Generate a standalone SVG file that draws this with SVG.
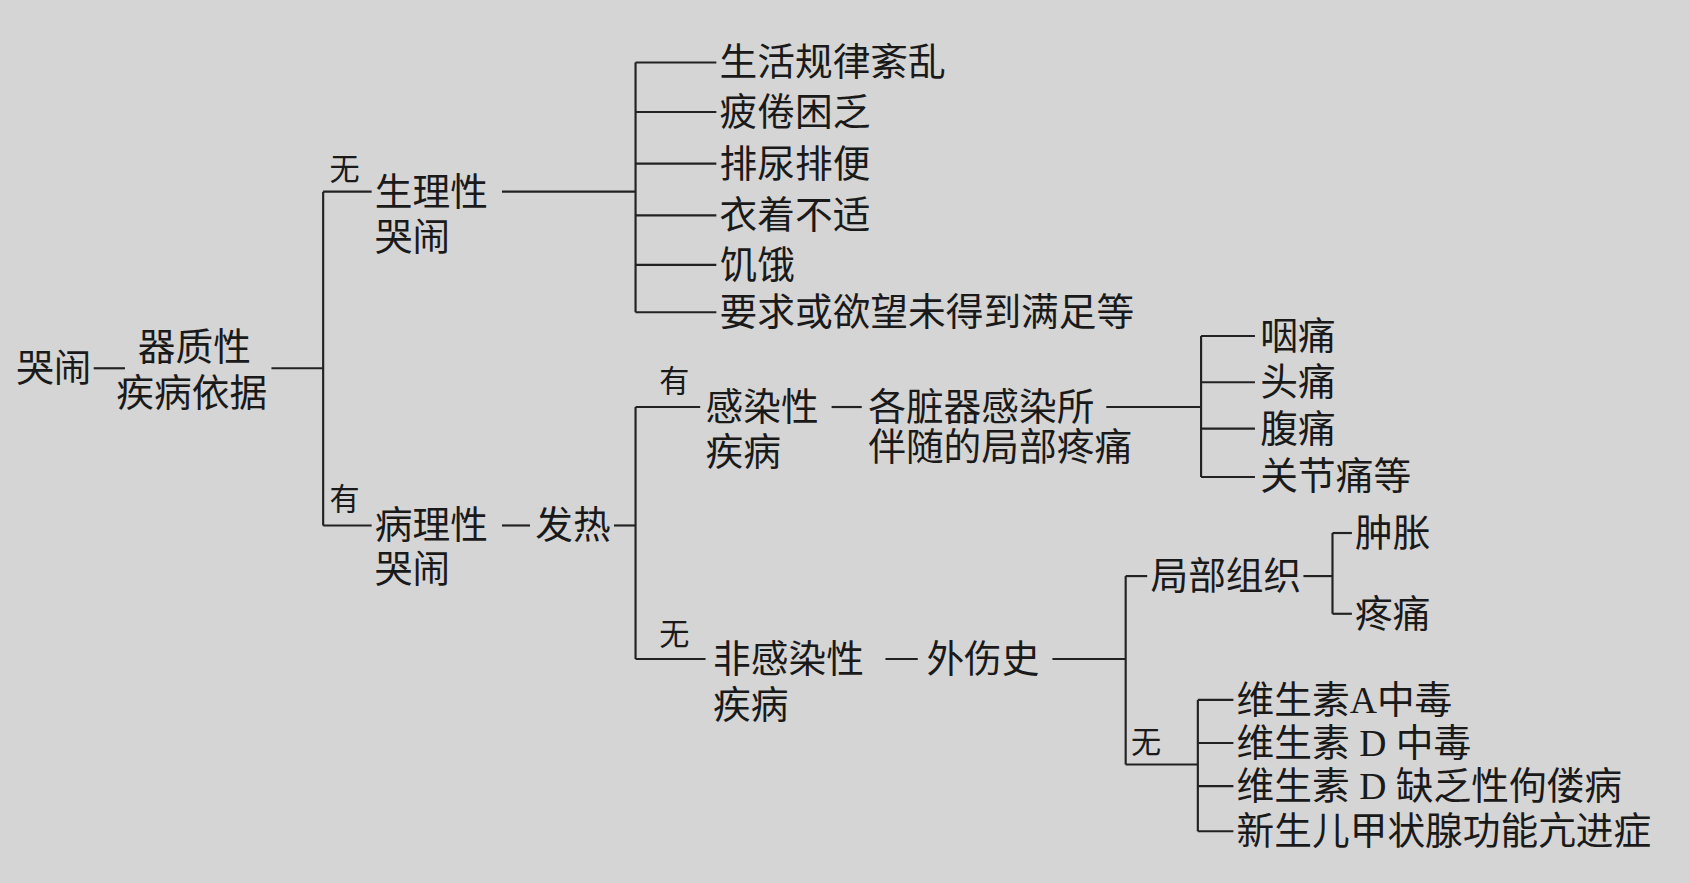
<svg xmlns="http://www.w3.org/2000/svg" width="1689" height="883" viewBox="0 0 1689 883">
<style>
text{font-family:"Liberation Serif","Noto Sans CJK SC",serif;font-size:35px;fill:#1a1a1a;dominant-baseline:central}
.s{font-size:28px}
.c line{stroke:#222;stroke-width:2}
</style>
<rect width="1689" height="883" fill="#d5d5d5"/>
<g transform="scale(1.0772,1.0768)">
<g class="c" id="connectors">
<line x1="87" y1="342" x2="116" y2="342"/>
<line x1="252" y1="342" x2="300" y2="342"/>
<line x1="300" y1="178" x2="300" y2="488"/>
<line x1="300" y1="178" x2="345" y2="178"/>
<line x1="300" y1="488" x2="345" y2="488"/>
<line x1="466" y1="178" x2="590" y2="178"/>
<line x1="590" y1="58" x2="590" y2="290"/>
<line x1="590" y1="58" x2="665" y2="58"/>
<line x1="590" y1="104" x2="665" y2="104"/>
<line x1="590" y1="152" x2="665" y2="152"/>
<line x1="590" y1="200" x2="665" y2="200"/>
<line x1="590" y1="246" x2="665" y2="246"/>
<line x1="590" y1="290" x2="665" y2="290"/>
<line x1="466" y1="488" x2="492" y2="488"/>
<line x1="570" y1="488" x2="590" y2="488"/>
<line x1="590" y1="378" x2="590" y2="612"/>
<line x1="590" y1="378" x2="650" y2="378"/>
<line x1="590" y1="612" x2="655" y2="612"/>
<line x1="772" y1="378" x2="800" y2="378"/>
<line x1="1027" y1="378" x2="1115" y2="378"/>
<line x1="1115" y1="312" x2="1115" y2="443"/>
<line x1="1115" y1="312" x2="1165" y2="312"/>
<line x1="1115" y1="355" x2="1165" y2="355"/>
<line x1="1115" y1="398" x2="1165" y2="398"/>
<line x1="1115" y1="443" x2="1165" y2="443"/>
<line x1="822" y1="612" x2="852" y2="612"/>
<line x1="977" y1="612" x2="1045" y2="612"/>
<line x1="1045" y1="535" x2="1045" y2="710"/>
<line x1="1045" y1="535" x2="1065" y2="535"/>
<line x1="1045" y1="710" x2="1112" y2="710"/>
<line x1="1210" y1="535" x2="1237" y2="535"/>
<line x1="1237" y1="495" x2="1237" y2="570"/>
<line x1="1237" y1="495" x2="1255" y2="495"/>
<line x1="1237" y1="570" x2="1255" y2="570"/>
<line x1="1112" y1="650" x2="1112" y2="772"/>
<line x1="1112" y1="650" x2="1145" y2="650"/>
<line x1="1112" y1="690" x2="1145" y2="690"/>
<line x1="1112" y1="730" x2="1145" y2="730"/>
<line x1="1112" y1="772" x2="1145" y2="772"/>
</g>
<g id="root"><text x="15" y="342">哭闹</text></g>
<g id="n1"><text x="128" y="322">器质性</text><text x="108" y="365">疾病依据</text></g>
<g id="l1"><text class="s" x="306" y="158">无</text><text class="s" x="306" y="464">有</text></g>
<g id="n2"><text x="348" y="178">生理性</text><text x="348" y="220">哭闹</text></g>
<g id="p1"><text x="668" y="58">生活规律紊乱</text></g>
<g id="p2"><text x="668" y="104">疲倦困乏</text></g>
<g id="p3"><text x="668" y="152">排尿排便</text></g>
<g id="p4"><text x="668" y="200">衣着不适</text></g>
<g id="p5"><text x="668" y="246">饥饿</text></g>
<g id="p6"><text x="668" y="290">要求或欲望未得到满足等</text></g>
<g id="n3"><text x="348" y="488">病理性</text><text x="348" y="528">哭闹</text></g>
<g id="n4"><text x="497" y="488">发热</text></g>
<g id="l2"><text class="s" x="612" y="355">有</text><text class="s" x="612" y="590">无</text></g>
<g id="n5"><text x="655" y="378">感染性</text><text x="655" y="420">疾病</text></g>
<g id="n6"><text x="806" y="378">各脏器感染所</text><text x="806" y="415">伴随的局部疼痛</text></g>
<g id="i1"><text x="1170" y="312">咽痛</text></g>
<g id="i2"><text x="1170" y="355">头痛</text></g>
<g id="i3"><text x="1170" y="398">腹痛</text></g>
<g id="i4"><text x="1170" y="442">关节痛等</text></g>
<g id="n7"><text x="662" y="612">非感染性</text><text x="662" y="655">疾病</text></g>
<g id="n8"><text x="860" y="612">外伤史</text></g>
<g id="n9"><text x="1068" y="535">局部组织</text></g>
<g id="t1"><text x="1258" y="495">肿胀</text></g>
<g id="t2"><text x="1258" y="570">疼痛</text></g>
<g id="l3"><text class="s" x="1050" y="690">无</text></g>
<g id="v1"><text x="1148" y="650">维生素A中毒</text></g>
<g id="v2"><text x="1148" y="690">维生素 D 中毒</text></g>
<g id="v3"><text x="1148" y="730">维生素 D 缺乏性佝偻病</text></g>
<g id="v4"><text x="1148" y="772">新生儿甲状腺功能亢进症</text></g>
</g>
</svg>
